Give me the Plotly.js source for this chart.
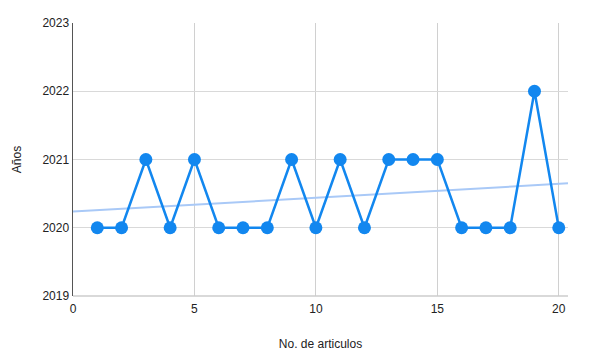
<!DOCTYPE html>
<html><head><meta charset="utf-8">
<script src="https://cdn.plot.ly/plotly-3.0.1.min.js"></script>
<style>html,body{margin:0;padding:0;background:#fff}#chart{width:589px;height:355px}</style>
</head><body><div id="chart"></div>
<script>
const articulos = [1,2,3,4,5,6,7,8,9,10,11,12,13,14,15,16,17,18,19,20];
const anios = [2020,2020,2021,2020,2021,2020,2020,2020,2021,2020,2021,2020,2021,2021,2021,2020,2020,2020,2022,2020];
const xTicks = [0,5,10,15,20];
const yTicks = [2019,2020,2021,2022,2023];

// linear trendline (least squares) from the data
const n = articulos.length;
const mx = articulos.reduce((a,b)=>a+b,0)/n;
const my = anios.reduce((a,b)=>a+b,0)/n;
let sxy=0, sxx=0;
for (let i=0;i<n;i++){ sxy += (articulos[i]-mx)*(anios[i]-my); sxx += (articulos[i]-mx)**2; }
const slope = sxy/sxx, icpt = my - slope*mx;
const xr = [0, 20.38];
const trend = {x: xr, y: xr.map(v=>icpt+slope*v), mode:'lines', line:{color:'#a9c9f7', width:2}, hoverinfo:'skip', showlegend:false};

const series = {x: articulos, y: anios, mode:'lines+markers',
  line:{color:'#1287ef', width:2.5}, marker:{color:'#1287ef', size:13}, showlegend:false, cliponaxis:false};

const layout = {
  width:589, height:355,
  margin:{l:73, r:21, t:23, b:59},
  paper_bgcolor:'#fff', plot_bgcolor:'#fff',
  font:{family:'Liberation Sans, Arial, sans-serif', size:12, color:'#222'},
  xaxis:{range:xr, tickvals:xTicks, ticktext:xTicks.map(String), showgrid:true, gridcolor:'#d0d0d0', gridwidth:1,
    zeroline:false, showline:false, ticks:'', ticklabelstandoff:4, tickfont:{size:12, color:'#222'},
    title:{text:'No. de articulos', font:{size:12, color:'#222'}, standoff:24}},
  yaxis:{range:[2019,2023], tickvals:yTicks, ticktext:yTicks.map(String), showgrid:true, gridcolor:'#d9d9d9', gridwidth:1,
    zeroline:false, showline:true, linecolor:'#555', linewidth:1.5, ticks:'', ticklen:0, tickfont:{size:12, color:'#222'},
    title:{text:'Años', font:{size:12, color:'#222'}, standoff:18}},
  shapes:[{type:'line', xref:'paper', yref:'paper', x0:0, x1:1, y0:0, y1:0, line:{color:'#cccccc', width:1.5}}]
};
Plotly.newPlot('chart', [trend, series], layout, {displayModeBar:false, staticPlot:true});
</script></body></html>
